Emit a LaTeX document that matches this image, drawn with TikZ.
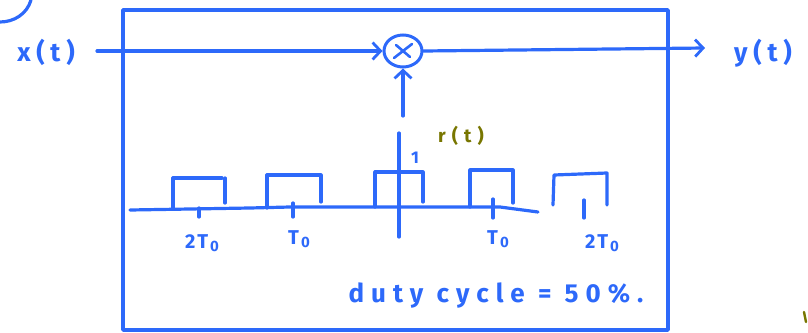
\documentclass[tikz,border=0pt]{standalone}
\usepackage{fontspec}
\setmainfont{Fira Sans}
\usetikzlibrary{arrows.meta,shapes.geometric}
\definecolor{pen}{RGB}{45,105,250}
\definecolor{olivepen}{RGB}{120,118,0}
\newcommand{\subo}{\kern2pt{\fontsize{15}{15}\selectfont\raisebox{-3pt}{0}}}
\tikzset{
  ink/.style={draw=pen, line width=3.2pt, line cap=round, line join=round},
  thin ink/.style={draw=pen, line width=2.6pt, line cap=round, line join=round},
  barb/.style={-{Straight Barb[length=8pt,width=17pt,line width=2.8pt]}},
  lbl/.style={text=pen, font=\fontsize{26}{28}\selectfont\bfseries\addfontfeatures{LetterSpace=22}, inner sep=0pt},
  small lbl/.style={text=pen, font=\fontsize{20}{22}\selectfont\bfseries\addfontfeatures{LetterSpace=12}, inner sep=0pt},
}
\begin{document}
\begin{tikzpicture}[x=1pt,y=-1pt]
\useasboundingbox (0,0) rectangle (808,332);
% corner fragment
\draw[ink] (0,22) .. controls (14,22) and (27,14) .. (31,0);
\draw[olivepen, line width=2.4pt, line cap=round] (804,312) -- (806,322);
% box
\draw[ink, line width=3.4pt] (123,330) -- (123,10) -- (668,10) -- (668,330) -- cycle;
% multiplier
\node[draw=pen, line width=3pt, ellipse, minimum width=38pt, minimum height=32pt, inner sep=0pt] (mul) at (403,51) {};
\draw[thin ink] (394,58) -- (412,44) (396,45) -- (410,57);
\node[lbl, anchor=center] (x) at (46,52) {x(t)};
\node[lbl, anchor=center] (y) at (763,53) {y(t)};
\coordinate (xs) at (97,51);
\coordinate (ye) at (705,48);
\draw[ink, barb] (xs) -- (mul.west);
\draw[ink, barb] (mul.east) -- (ye);
\coordinate (tail) at (403,116);
\draw[ink, barb] (tail) -- (mul.south);
% axes
\draw[ink] (130,210) -- (250,208) -- (290,207) -- (380,207) -- (500,207) -- (538,212);
\draw[ink] (399,133) -- (399,237);
% pulses
\draw[ink] (173,208) -- (173,178) -- (222,178);
\draw[ink] (225,178) -- (225,203);
\draw[ink] (267,208) -- (267,175) -- (321,175) -- (321,202);
\draw[ink] (375,207) -- (375,172) -- (423,172) -- (423,202);
\draw[ink] (470,207) -- (470,170) -- (513,170) -- (513,203);
\draw[ink] (553,205) -- (554,175) -- (607,173) -- (607,205);
% ticks
\draw[ink] (199,208) -- (199,217);
\draw[ink] (293,203) -- (293,217);
\draw[ink] (493,199) -- (493,218);
\draw[ink] (584,200) -- (584,218);
% labels
\node[text=pen, font=\fontsize{17}{19}\selectfont\bfseries, inner sep=0pt] (l1) at (415,158) {1};
\node[text=olivepen, font=\fontsize{19}{21}\selectfont\bfseries\addfontfeatures{LetterSpace=32}, inner sep=0pt] (r) at (461,136) {r(t)};
\node[small lbl] (t1) at (202,243) {2T\subo};
\node[small lbl] (t2) at (299,239) {T\subo};
\node[small lbl] (t3) at (498,239) {T\subo};
\node[small lbl] (t4) at (602,243) {2T\subo};
\node[lbl, font=\fontsize{26}{28}\selectfont\bfseries\addfontfeatures{LetterSpace=27}, anchor=center] (duty) at (496,296) {duty cycle = 50\%.};
\end{tikzpicture}
\end{document}
